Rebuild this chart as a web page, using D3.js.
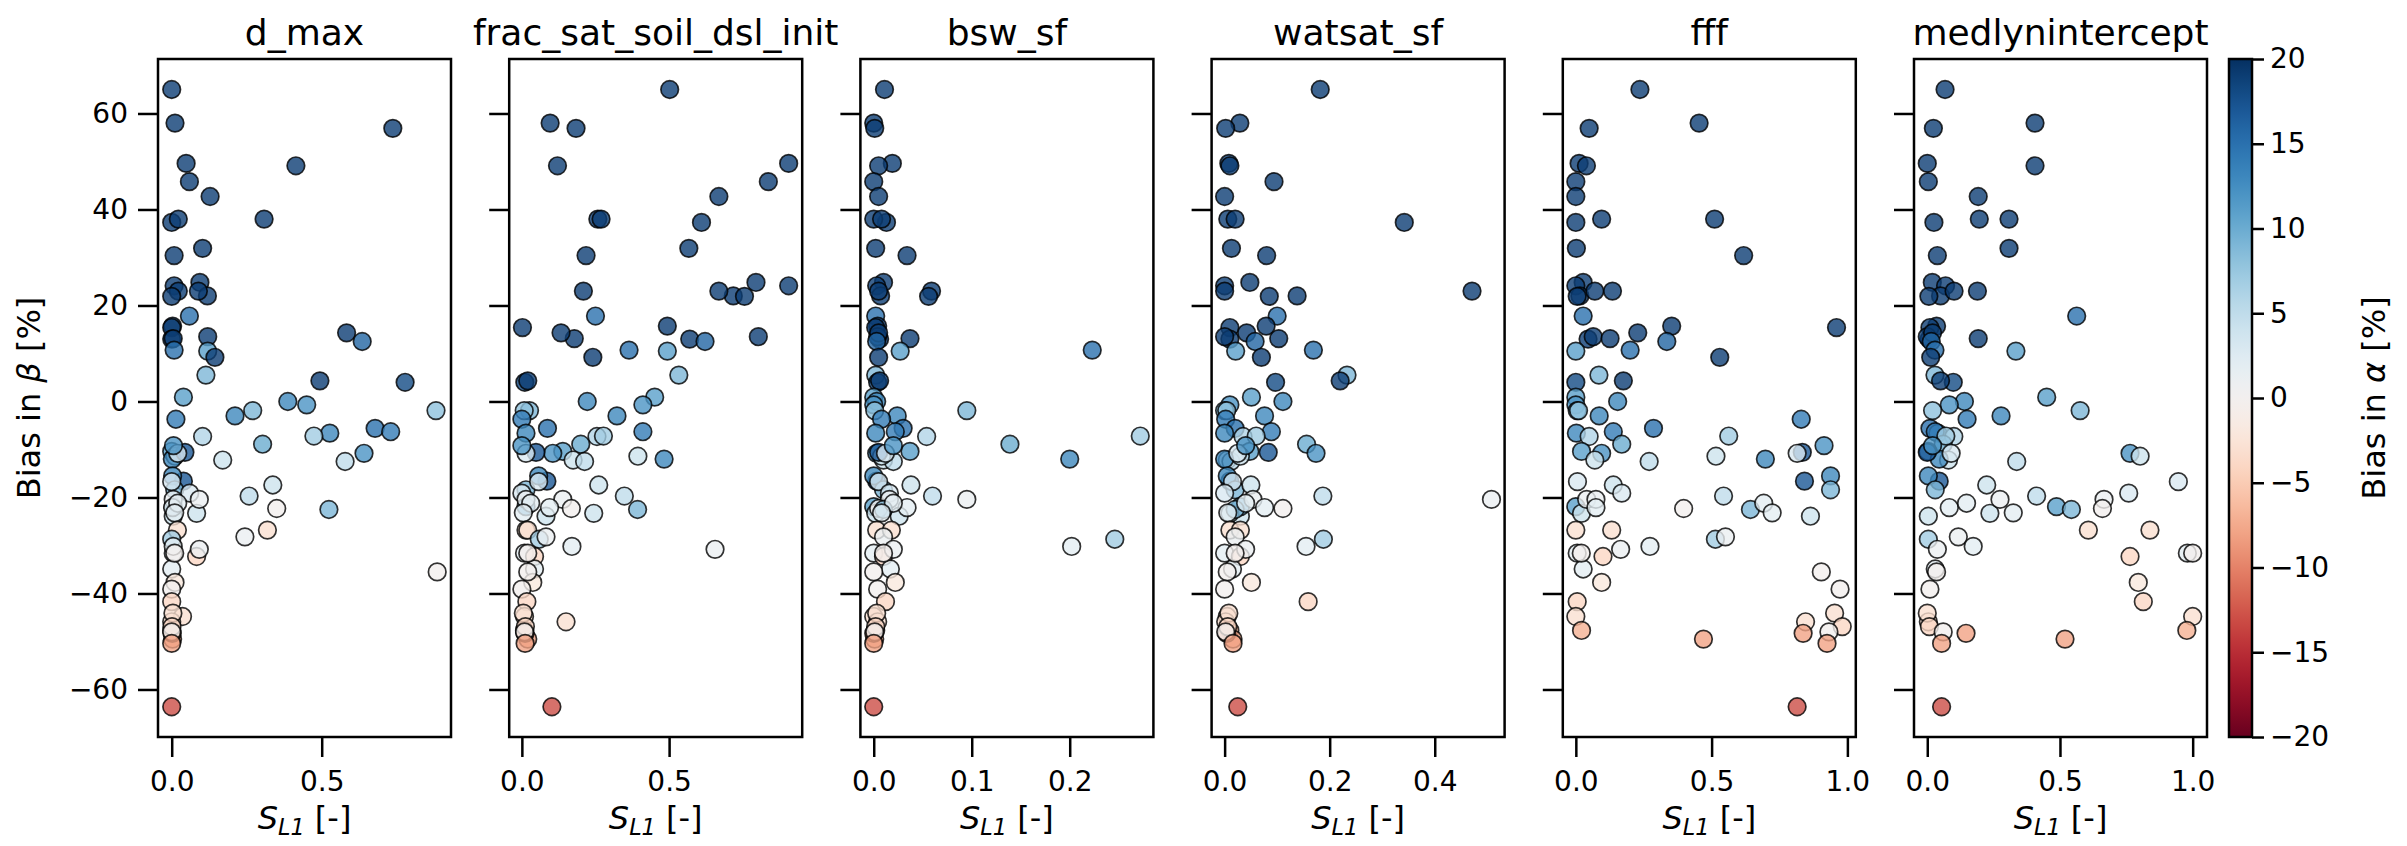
<!DOCTYPE html>
<html>
<head>
<meta charset="utf-8">
<script src="https://cdn.jsdelivr.net/npm/d3@7"></script>
<style>
  body { margin: 0; background: #fff; }
  text { font-family: "DejaVu Sans", sans-serif; }
</style>
</head>
<body>
<svg id="chart"></svg>
<script>
// panel titles and tick values
const panels = ["d_max", "frac_sat_soil_dsl_init", "bsw_sf", "watsat_sf", "fff", "medlynintercept"];
const xTicks = [[0, 0.5], [0, 0.5], [0, 0.1, 0.2], [0, 0.2, 0.4], [0, 0.5, 1.0], [0, 0.5, 1.0]];
const xDomains = [[-0.0457, 0.931], [-0.043, 0.952], [-0.0136, 0.2854], [-0.0248, 0.533], [-0.048, 1.031], [-0.050, 1.054]];
const yTicks = [-60, -40, -20, 0, 20, 40, 60];
const cTicks = [-20, -15, -10, -5, 0, 5, 10, 15, 20];

// bias in beta [%] (y) and bias in alpha [%] (colour), shared by all panels
const biasBeta = [65.0, 58.0, 56.9, 49.6, 49.1, 45.8, 42.7, 37.3, 38.0, 38.0, 31.9, 30.4, 24.8, 24.1, 22.0, 23.0, 23.0, 21.9,
  17.8, 15.7, 15.4, 13.0, 13.5, 13.1, 14.3, 12.5, 10.5, 10.7, 9.2, 5.5, 4.0, 4.3, 0.9, 0.0, -0.7, -1.9, -1.9, -3.0, -3.7,
  -5.6, -6.6, -7.3, -6.3, -8.9, -10.4, -10.8, -12.2, -12.5, -7.2, -11.4, -12.0, -10.6, -10.8, -9.2,
  -16.6, -15.5, -18.4, -23.9, -16.7, -17.4, -19.1, -21.9, -23.3, -20.4, -20.4, -22.1, -22.3, -19.7, -22.5, -21.2, -23.2,
  -26.8, -26.8, -28.7, -28.2, -31.6, -32.3, -30.8, -30.2, -34.9, -37.7, -35.5, -39.1, -31.6,
  -41.7, -44.8, -47.7, -49.5, -45.9, -48.3, -44.1, -46.9, -48.0, -50.4, -63.6];
const biasAlpha = [19, 19, 19, 19, 19, 19, 19, 19, 19, 19, 19, 19, 19, 19, 19, 19, 19, 19,
  15, 19, 19, 19, 19, 19, 19, 16, 11, 15, 19, 9, 18, 19, 11, 13, 12, 9, 8, 13, 14,
  15, 13, 6, 14, 10, 11, 12, 4, 5, 7, 4, 13, 17, 3, 12,
  17, 13, 9, 4, 3, 4, 3, 11, 4, 1, 1, 2, 0, 5, 9, 2, 2,
  -3, -3, 7, 1, 2, -4, 1, 2, 2, -2, 0, 0, 0,
  -4, -3, -7, -8, -3, -8, -3, -4, 0, -8, -13];

// S_L1 of each parameter, same point order as above
const xDmax = [0.0, 0.011, 0.737, 0.048, 0.414, 0.059, 0.128, 0.0, 0.022, 0.308, 0.103, 0.008, 0.094, 0.008, 0.119, 0.022, 0.089, 0.0,
  0.059, 0.003, 0.0, 0.0, 0.12, 0.005, 0.583, 0.635, 0.12, 0.008, 0.144, 0.114, 0.778, 0.494, 0.039, 0.387, 0.45, 0.27, 0.881, 0.211, 0.014,
  0.678, 0.527, 0.103, 0.73, 0.303, 0.0, 0.641, 0.17, 0.578, 0.474, 0.011, 0.002, 0.044, 0.02, 0.006,
  0.039, 0.003, 0.01, 0.005, 0.0, 0.337, 0.06, 0.005, 0.083, 0.092, 0.005, 0.003, 0.35, 0.258, 0.524, 0.02, 0.01,
  0.019, 0.319, 0.0, 0.244, 0.005, 0.083, 0.092, 0.005, 0.0, 0.011, 0.885, 0.0, 0.01,
  0.0, 0.036, 0.0, 0.003, 0.0, 0.002, 0.004, 0.001, 0.0, 0.0, 0.0];
const xFrac = [0.502, 0.096, 0.184, 0.906, 0.121, 0.837, 0.669, 0.61, 0.258, 0.269, 0.567, 0.218, 0.795, 0.906, 0.718, 0.669, 0.209, 0.756,
  0.25, 0.494, 0.002, 0.57, 0.803, 0.178, 0.133, 0.622, 0.494, 0.364, 0.241, 0.533, 0.01, 0.02, 0.451, 0.222, 0.411, 0.026, 0.008, 0.323, 0.0,
  0.087, 0.014, 0.255, 0.411, 0.2, 0.139, 0.105, 0.174, 0.213, 0.277, 0.394, 0.483, 0.048, 0.014, 0.0,
  0.085, 0.057, 0.014, 0.082, 0.057, 0.261, 0.0, 0.014, 0.244, 0.139, 0.014, 0.094, 0.168, 0.348, 0.393, 0.03, 0.005,
  0.014, 0.02, 0.059, 0.082, 0.009, 0.043, 0.656, 0.17, 0.043, 0.037, 0.02, 0.0, 0.02,
  0.017, 0.009, 0.009, 0.02, 0.15, 0.011, 0.005, 0.012, 0.009, 0.011, 0.102];
const xBsw = [0.011, 0.0, 0.001, 0.019, 0.005, 0.0, 0.005, 0.013, 0.0, 0.008, 0.002, 0.034, 0.01, 0.003, 0.007, 0.059, 0.005, 0.056,
  0.002, 0.004, 0.002, 0.006, 0.004, 0.037, 0.005, 0.003, 0.027, 0.223, 0.005, 0.002, 0.004, 0.006, 0.0, 0.003, 0.0, 0.095, 0.001, 0.024, 0.008,
  0.03, 0.002, 0.054, 0.022, 0.139, 0.037, 0.003, 0.01, 0.02, 0.272, 0.008, 0.2, 0.005, 0.012, 0.02,
  0.003, 0.0, 0.01, 0.026, 0.005, 0.038, 0.016, 0.0, 0.002, 0.095, 0.016, 0.034, 0.005, 0.06, 0.01, 0.02, 0.008,
  0.003, 0.018, 0.246, 0.01, 0.0, 0.01, 0.02, 0.202, 0.017, 0.022, 0.0, 0.004, 0.01,
  0.012, 0.0, 0.002, 0.001, 0.004, 0.0, 0.003, 0.002, 0.001, 0.0, 0.0];
const xWatsat = [0.182, 0.029, 0.002, 0.008, 0.01, 0.094, 0.0, 0.342, 0.006, 0.02, 0.013, 0.08, 0.048, 0.0, 0.138, 0.0, 0.471, 0.085,
  0.1, 0.079, 0.01, 0.01, 0.0, 0.103, 0.042, 0.058, 0.021, 0.169, 0.07, 0.233, 0.097, 0.22, 0.051, 0.111, 0.01, 0.0, 0.004, 0.076, 0.002,
  0.02, 0.0, 0.035, 0.089, 0.156, 0.048, 0.174, 0.005, 0.012, 0.06, 0.03, 0.0, 0.083, 0.025, 0.04,
  0.01, 0.005, 0.02, 0.03, 0.015, 0.05, 0.0, 0.03, 0.01, 0.508, 0.054, 0.076, 0.111, 0.187, 0.02, 0.04, 0.006,
  0.01, 0.03, 0.188, 0.02, 0.0, 0.03, 0.04, 0.155, 0.015, 0.051, 0.005, 0.0, 0.02,
  0.159, 0.005, 0.01, 0.016, 0.002, 0.004, 0.008, 0.006, 0.002, 0.016, 0.025];
const xFff = [0.236, 0.454, 0.049, 0.012, 0.039, 0.0, 0.0, 0.0, 0.095, 0.511, 0.002, 0.618, 0.027, 0.0, 0.015, 0.070, 0.135, 0.005,
  0.027, 0.353, 0.960, 0.045, 0.064, 0.126, 0.228, 0.335, 0.0, 0.2, 0.53, 0.085, 0.0, 0.175, 0.0, 0.154, 0.0, 0.005, 0.01, 0.086, 0.83,
  0.286, 0.002, 0.049, 0.138, 0.169, 0.021, 0.095, 0.07, 0.27, 0.563, 0.516, 0.698, 0.834, 0.815, 0.914,
  0.842, 0.938, 0.938, 0.864, 0.006, 0.138, 0.169, 0.0, 0.021, 0.04, 0.074, 0.074, 0.397, 0.544, 0.643, 0.692, 0.723,
  0.0, 0.132, 0.514, 0.551, 0.005, 0.1, 0.165, 0.273, 0.027, 0.095, 0.904, 0.973, 0.02,
  0.005, 0.0, 0.021, 0.47, 0.846, 0.837, 0.953, 0.981, 0.932, 0.925, 0.815];
const xMedlyn = [0.067, 0.406, 0.023, 0.0, 0.406, 0.004, 0.192, 0.025, 0.196, 0.308, 0.308, 0.038, 0.019, 0.069, 0.050, 0.101, 0.189, 0.006,
  0.563, 0.035, 0.01, 0.007, 0.0, 0.192, 0.02, 0.015, 0.334, 0.029, 0.013, 0.029, 0.098, 0.05, 0.45, 0.14, 0.083, 0.576, 0.02, 0.278, 0.15,
  0.01, 0.04, 0.1, 0.03, 0.06, 0.003, 0.764, 0.08, 0.337, 0.07, 0.802, 0.045, 0.0, 0.09, 0.02,
  0.045, 0.004, 0.03, 0.004, 0.946, 0.224, 0.759, 0.487, 0.236, 0.666, 0.274, 0.083, 0.66, 0.412, 0.543, 0.148, 0.324,
  0.607, 0.839, 0.004, 0.117, 0.98, 0.764, 0.038, 0.173, 0.03, 0.795, 0.035, 0.01, 1.0,
  0.814, 1.0, 0.978, 0.519, 0.004, 0.146, 0.0, 0.008, 0.06, 0.054, 0.054];
const xSeries = [xDmax, xFrac, xBsw, xWatsat, xFff, xMedlyn];

const W = 2407, H = 846;
const plotTop = 59, plotBottom = 737, left0 = 158, pw = 293, step = 351.2;
const tickFont = 28, titleFont = 36, labelFont = 32;

const svg = d3.select("#chart").attr("width", W).attr("height", H);

const y = d3.scaleLinear().domain([-69.9, 71.35]).range([plotBottom, plotTop]);
const color = v => d3.interpolateRdBu((Math.max(-20, Math.min(20, v)) + 20) / 40);
const minus = d => d3.format("d")(d).replace("-", "\u2212");

panels.forEach(function (name, p) {
    var x0 = left0 + p * step;
    var x = d3.scaleLinear().domain(xDomains[p]).range([x0, x0 + pw]);
    var g = svg.append("g");

    // points
    var xs = xSeries[p];
    g.append("g").selectAll("circle")
        .data(biasBeta.map((b, i) => ({ x: xs[i], y: b, c: biasAlpha[i] })))
        .join("circle")
        .attr("cx", d => x(d.x))
        .attr("cy", d => y(d.y))
        .attr("r", 8.8)
        .attr("fill", d => color(d.c))
        .attr("fill-opacity", 0.8)
        .attr("stroke", "#000")
        .attr("stroke-opacity", 0.8)
        .attr("stroke-width", 1.7);

    // frame
    g.append("rect")
        .attr("x", x0).attr("y", plotTop)
        .attr("width", pw).attr("height", plotBottom - plotTop)
        .attr("fill", "none").attr("stroke", "#000").attr("stroke-width", 2.5);

    // x axis
    var xa = g.append("g").attr("transform", `translate(0,${plotBottom})`)
        .call(d3.axisBottom(x).tickValues(xTicks[p]).tickFormat(d3.format(".1f")).tickSize(20).tickPadding(14));
    xa.select(".domain").remove();
    xa.selectAll("line").attr("stroke-width", 2.5);
    xa.selectAll("text").attr("font-size", tickFont).attr("fill", "#000")
        .style("font-family", "DejaVu Sans");

    // y axis (labels only on first panel)
    var ya = g.append("g").attr("transform", `translate(${x0},0)`)
        .call(d3.axisLeft(y).tickValues(yTicks).tickFormat(p == 0 ? minus : "").tickSize(20).tickPadding(10));
    ya.select(".domain").remove();
    ya.selectAll("line").attr("stroke-width", 2.5);
    ya.selectAll("text").attr("font-size", tickFont).attr("fill", "#000")
        .style("font-family", "DejaVu Sans");

    // title
    g.append("text")
        .attr("x", x0 + pw / 2).attr("y", plotTop - 14)
        .attr("text-anchor", "middle")
        .attr("font-size", titleFont)
        .text(name);

    // x label S_L1 [-]
    var xl = g.append("text")
        .attr("x", x0 + pw / 2).attr("y", 829)
        .attr("text-anchor", "middle")
        .attr("font-size", labelFont);
    xl.append("tspan").attr("font-style", "italic").text("S");
    xl.append("tspan").attr("font-style", "italic").attr("font-size", labelFont * 0.7).attr("dy", 6).text("L1");
    xl.append("tspan").attr("dy", -6).text(" [-]");
});

// y label
var yl = svg.append("text")
    .attr("transform", `translate(40,${(plotTop + plotBottom) / 2}) rotate(-90)`)
    .attr("text-anchor", "middle")
    .attr("font-size", labelFont);
yl.append("tspan").text("Bias in ");
yl.append("tspan").attr("font-style", "italic").text("\u03b2");
yl.append("tspan").text(" [%]");

// colorbar
const cbX = 2229, cbW = 23;
const cy = d3.scaleLinear().domain([-20, 20]).range([plotBottom, plotTop]);
var grad = svg.append("defs").append("linearGradient")
    .attr("id", "cbgrad").attr("x1", 0).attr("y1", 1).attr("x2", 0).attr("y2", 0);
d3.range(0, 1.0001, 0.02).forEach(t => {
    grad.append("stop").attr("offset", t).attr("stop-color", d3.interpolateRdBu(t));
});
svg.append("rect")
    .attr("x", cbX).attr("y", plotTop).attr("width", cbW).attr("height", plotBottom - plotTop)
    .attr("fill", "url(#cbgrad)").attr("stroke", "#000").attr("stroke-width", 2.5);
var ca = svg.append("g").attr("transform", `translate(${cbX + cbW},0)`)
    .call(d3.axisRight(cy).tickValues(cTicks).tickFormat(minus).tickSize(12).tickPadding(6));
ca.select(".domain").remove();
ca.selectAll("line").attr("stroke-width", 2.5);
ca.selectAll("text").attr("font-size", tickFont).attr("fill", "#000")
    .style("font-family", "DejaVu Sans");

var cl = svg.append("text")
    .attr("transform", `translate(2385,${(plotTop + plotBottom) / 2}) rotate(-90)`)
    .attr("text-anchor", "middle")
    .attr("font-size", labelFont);
cl.append("tspan").text("Bias in ");
cl.append("tspan").attr("font-style", "italic").text("\u03b1");
cl.append("tspan").text(" [%]");
</script>
</body>
</html>
